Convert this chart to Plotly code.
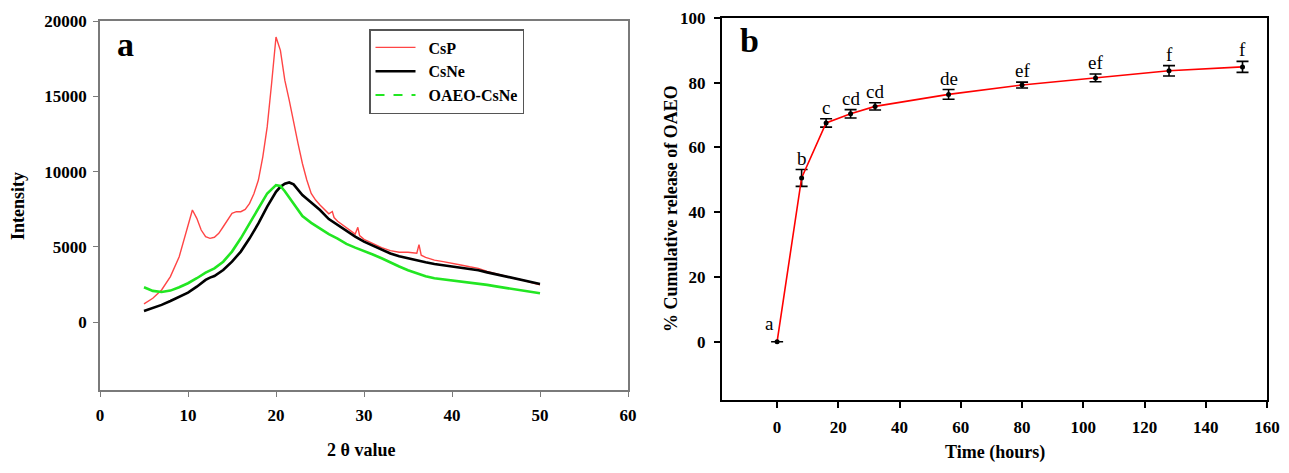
import plotly.graph_objects as go

# ---------------- Panel a: XRD ----------------
csp_theta = [5, 6, 7, 8, 9, 10, 10.5, 11, 11.5, 12, 12.5, 13, 13.5, 14, 14.5, 15, 15.5, 16, 16.5, 17, 17.5,
             18, 18.5, 19, 19.5, 20, 20.5, 21, 21.5, 22, 22.5, 23, 23.5, 24, 24.5, 25, 26, 26.4, 26.6, 27, 28,
             29, 29.3, 29.5, 30, 31, 32, 33, 34, 35, 36, 36.25, 36.5, 37, 38, 39, 40, 41, 42, 43, 44, 45, 46,
             47, 48, 49, 50]
csp_int = [1215, 1590, 2140, 3030, 4350, 6340, 7450, 6900, 6120, 5680, 5570, 5640, 5900, 6340, 6780, 7230, 7340,
           7340, 7490, 7890, 8550, 9440, 10980, 12970, 15850, 18940, 18050, 16070, 14740, 13190, 11870, 10540,
           9440, 8550, 8110, 7780, 7200, 7350, 6950, 6700, 6250, 5850, 6300, 5750, 5500, 5200, 4950, 4750, 4650,
           4650, 4580, 5150, 4450, 4300, 4120, 4020, 3930, 3800, 3680, 3580, 3380, 3250, 3070, 2920, 2810,
           2630, 2480]

csne_theta = [5, 6, 7, 8, 9, 10, 11, 12, 12.5, 13, 14, 15, 16, 17, 18, 19, 20, 20.5, 21, 21.5, 22, 23, 24,
              25, 26, 27, 28, 29, 30, 31, 32, 33, 34, 35, 36, 37, 38, 39, 40, 41, 42, 43, 44, 45, 46, 47, 48,
              49, 50]
csne_int = [750, 930, 1150, 1410, 1700, 1970, 2360, 2810, 2960, 3070, 3470, 4020, 4690, 5570, 6560, 7670, 8660,
            8990, 9200, 9280, 9150, 8450, 7950, 7450, 6850, 6450, 6050, 5680, 5350, 5080, 4820, 4560, 4380,
            4230, 4100, 3980, 3870, 3780, 3700, 3620, 3560, 3450, 3310, 3190, 3070, 2920, 2810, 2700, 2540]

oaeo_theta = [5, 6, 7, 8, 9, 10, 11, 12, 13, 14, 15, 16, 17, 18, 19, 20, 20.5, 21, 22, 23, 24, 25, 26, 27,
              28, 29, 30, 31, 32, 33, 34, 35, 36, 37, 38, 39, 40, 41, 42, 43, 44, 45, 46, 47, 48, 49, 50]
oaeo_int = [2320, 2080, 2010, 2100, 2320, 2590, 2920, 3290, 3580, 4020, 4690, 5570, 6560, 7560, 8550, 9100,
            9050, 8700, 7900, 7050, 6600, 6200, 5850, 5550, 5200, 4950, 4750, 4500, 4250, 3950, 3700, 3450,
            3230, 3050, 2920, 2850, 2760, 2700, 2620, 2560, 2480, 2380, 2290, 2200, 2120, 2030, 1920]

a_xticks = [0, 10, 20, 30, 40, 50, 60]
a_yticks = [0, 5000, 10000, 15000, 20000]

# ---------------- Panel b: release ----------------
time_h = [0, 8, 16, 24, 32, 56, 80, 104, 128, 152]
release = [0, 50.6, 67.6, 70.4, 72.7, 76.4, 79.3, 81.5, 83.7, 84.9]
release_err = [0, 2.6, 1.3, 1.3, 1.1, 1.5, 0.9, 1.2, 1.6, 1.7]
sig_letters = ["a", "b", "c", "cd", "cd", "de", "ef", "ef", "f", "f"]
b_xticks = [0, 20, 40, 60, 80, 100, 120, 140, 160]
b_yticks = [0, 20, 40, 60, 80, 100]

OFF = 8  # page body margin offset
W, H = 1289 - OFF, 473 - 2 * OFF
serif = "Liberation Serif"

fig = go.Figure()

fig.add_trace(go.Scatter(x=csp_theta, y=csp_int, mode="lines", name="\u2002<b>CsP</b>",
                         line=dict(color="#ff4545", width=1.4), xaxis="x", yaxis="y"))
fig.add_trace(go.Scatter(x=csne_theta, y=csne_int, mode="lines", name="\u2002<b>CsNe</b>",
                         line=dict(color="black", width=2.6), xaxis="x", yaxis="y"))
fig.add_trace(go.Scatter(x=oaeo_theta, y=oaeo_int, mode="lines", name="\u2002<b>OAEO-CsNe</b>",
                         line=dict(color="#22e622", width=2.6), xaxis="x", yaxis="y",
                         showlegend=False))
fig.add_trace(go.Scatter(x=[None], y=[None], mode="lines", name="\u2002<b>OAEO-CsNe</b>",
                         line=dict(color="#22e622", width=2, dash="dash"), xaxis="x", yaxis="y"))

fig.add_trace(go.Scatter(x=time_h, y=release, mode="lines+markers", showlegend=False,
                         line=dict(color="red", width=1.6),
                         marker=dict(color="black", size=5),
                         error_y=dict(type="data", array=release_err, visible=True,
                                      color="black", thickness=1.6, width=6),
                         xaxis="x2", yaxis="y2"))


def px_x(p):
    return (p - OFF) / W


def px_y(p):
    return 1 - (p - OFF) / H


def bold(vals):
    return ["<b>%d</b>" % v for v in vals]


tickfont = dict(family=serif, size=17, color="black")
axis_common = dict(showgrid=False, zeroline=False, ticks="outside", mirror=True, showline=True,
                   tickfont=tickfont, tickmode="array", ticklabeloverflow="allow")

fig.update_layout(
    width=W, height=H, autosize=False,
    margin=dict(l=0, r=0, t=0, b=0, pad=0, autoexpand=False),
    paper_bgcolor="white", plot_bgcolor="white",
    font=dict(family=serif, color="black"),
    xaxis=dict(domain=[px_x(100), px_x(628)], range=[0, 60], tickvals=a_xticks, ticktext=bold(a_xticks),
               anchor="y", linecolor="#7a7a7a", linewidth=1.6, ticklen=5, tickcolor="#7a7a7a", tickwidth=1.4,
               ticklabelstandoff=4, **axis_common),
    yaxis=dict(domain=[px_y(390), px_y(21)], range=[-4500, 20000], tickvals=a_yticks, ticktext=bold(a_yticks),
               anchor="x", linecolor="#7a7a7a", linewidth=1.6, ticklen=5, tickcolor="#7a7a7a", tickwidth=1.4,
               ticklabelstandoff=3, **axis_common),
    xaxis2=dict(domain=[px_x(722), px_x(1267)], range=[-18, 160], tickvals=b_xticks, ticktext=bold(b_xticks),
                anchor="y2", linecolor="black", linewidth=2, ticklen=6, tickcolor="black", tickwidth=1.6,
                ticklabelstandoff=5, **axis_common),
    yaxis2=dict(domain=[px_y(400), px_y(18)], range=[-18, 100], tickvals=b_yticks, ticktext=bold(b_yticks),
                anchor="x2", linecolor="black", linewidth=2, ticklen=6, tickcolor="black", tickwidth=1.6,
                ticklabelstandoff=5, **axis_common),
    legend=dict(x=px_x(369), y=px_y(29), xanchor="left", yanchor="top",
                bordercolor="#555555", borderwidth=1.5, bgcolor="white",
                font=dict(family=serif, size=16, color="black"),
                tracegroupgap=0, itemwidth=40),
    showlegend=True,
)

title_font = dict(family=serif, size=18, color="black")
annotations = [
    dict(text="<b>2 θ value</b>", x=px_x(361), y=px_y(450), font=title_font),
    dict(text="<b>Intensity</b>", x=px_x(18), y=px_y(206), textangle=-90, font=title_font),
    dict(text="<b>Time (hours)</b>", x=px_x(995), y=px_y(452), font=title_font),
    dict(text="<b>% Cumulative release of OAEO</b>", x=px_x(671), y=px_y(209), textangle=-90, font=title_font),
    dict(text="<b>a</b>", x=px_x(125), y=px_y(44), font=dict(family=serif, size=34, color="black")),
    dict(text="<b>b</b>", x=px_x(749), y=px_y(40), font=dict(family=serif, size=34, color="black")),
]
for a in annotations:
    a.update(xref="paper", yref="paper", xanchor="center", yanchor="middle", showarrow=False)

for i, (t, v, e, s) in enumerate(zip(time_h, release, release_err, sig_letters)):
    if i == 0:
        annotations.append(dict(text=s, x=t, y=v, xref="x2", yref="y2", xanchor="right", yanchor="bottom",
                                xshift=-1, yshift=6, showarrow=False,
                                font=dict(family=serif, size=19, color="black")))
    else:
        annotations.append(dict(text=s, x=t, y=v + e, xref="x2", yref="y2", xanchor="center",
                                yanchor="bottom", yshift=-1, showarrow=False,
                                font=dict(family=serif, size=19, color="black")))

fig.update_layout(annotations=annotations)

fig.write_html("out.html")
